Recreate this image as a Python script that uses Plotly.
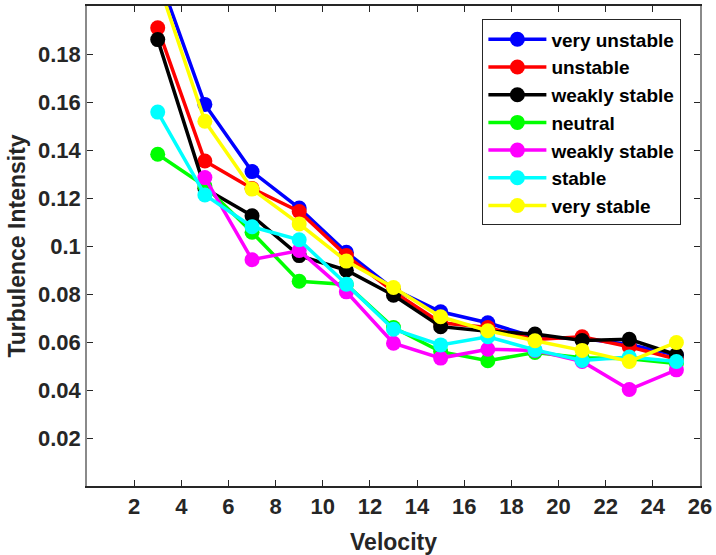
import plotly.graph_objects as go

velocity = [3, 5, 7, 9, 11, 13, 15, 17, 19, 21, 23, 25]

series_names = ["very unstable", "unstable", "weakly stable", "neutral",
                "weakly stable", "stable", "very stable"]
series_colors = ["#0000FF", "#FF0000", "#000000", "#00FF00",
                 "#FF00FF", "#00FFFF", "#FFFF00"]

very_unstable = [0.2138, 0.159, 0.131, 0.1158, 0.0974, 0.082, 0.0726, 0.068, 0.062, 0.0615, 0.059, 0.0545]
unstable      = [0.1909, 0.1354, 0.124, 0.1144, 0.096, 0.081, 0.068, 0.066, 0.061, 0.0622, 0.058, 0.0529]
weakly_stable_a = [0.186, 0.124, 0.1126, 0.096, 0.0899, 0.0795, 0.0664, 0.0645, 0.0633, 0.0606, 0.0611, 0.0547]
neutral       = [0.1382, 0.125, 0.1057, 0.0853, 0.084, 0.066, 0.056, 0.0522, 0.0556, 0.0534, 0.053, 0.051]
weakly_stable_b = [None, 0.1285, 0.0943, 0.0981, 0.0809, 0.0595, 0.0533, 0.057, 0.0565, 0.0519, 0.0402, 0.0484]
stable        = [0.1558, 0.1213, 0.108, 0.1026, 0.0841, 0.0653, 0.0588, 0.0622, 0.0567, 0.0523, 0.0537, 0.0519]
very_stable   = [0.2106, 0.152, 0.1237, 0.1092, 0.0937, 0.0827, 0.0705, 0.0647, 0.0605, 0.0565, 0.0519, 0.0598]

all_series = [very_unstable, unstable, weakly_stable_a, neutral,
              weakly_stable_b, stable, very_stable]

x_ticks = [2, 4, 6, 8, 10, 12, 14, 16, 18, 20, 22, 24, 26]
y_ticks = [0.02, 0.04, 0.06, 0.08, 0.1, 0.12, 0.14, 0.16, 0.18]
y_ticktext = ["0.02", "0.04", "0.06", "0.08", "0.1", "0.12", "0.14", "0.16", "0.18"]

FONT = "Liberation Sans Narrow, Liberation Sans, Arial, sans-serif"
LEG_FONT = "Liberation Sans, Arial, sans-serif"

fig = go.Figure()
for name, color, vals in zip(series_names, series_colors, all_series):
    fig.add_trace(go.Scatter(
        x=velocity, y=vals, name=name, mode="lines+markers",
        line=dict(color=color, width=3.5),
        marker=dict(color=color, size=15, symbol="circle"),
        connectgaps=False,
    ))

fig.update_layout(
    width=716, height=555,
    margin=dict(l=87, r=13, t=4, b=68),
    paper_bgcolor="white", plot_bgcolor="white",
    font=dict(family=FONT, color="#262626"),
    showlegend=True,
    legend=dict(
        x=0.645, y=0.972, xanchor="left", yanchor="top",
        bgcolor="white", bordercolor="#262626", borderwidth=1,
        font=dict(family=LEG_FONT, size=19, color="#000000", weight="bold"),
        itemwidth=58, traceorder="normal",
    ),
    xaxis=dict(
        range=[0, 26], tickvals=x_ticks, ticks="inside", ticklen=6,
        tickcolor="#262626", showline=True, linecolor="#262626", linewidth=1.5,
        mirror="ticks", showgrid=False, zeroline=False,
        tickfont=dict(family=FONT, size=22, color="#262626", weight="bold"),
        title=dict(text="Velocity", standoff=16,
                   font=dict(family=FONT, size=23, color="#262626", weight="bold")),
    ),
    yaxis=dict(
        range=[0, 0.2], tickvals=y_ticks, ticktext=y_ticktext, ticks="inside", ticklen=6,
        tickcolor="#262626", showline=True, linecolor="#8a8a8a", linewidth=1.5,
        mirror="ticks", showgrid=False, zeroline=False,
        tickfont=dict(family=FONT, size=22, color="#262626", weight="bold"),
        title=dict(text="Turbulence Intensity", standoff=6,
                   font=dict(family=FONT, size=23, color="#262626", weight="bold")),
    ),
)

fig.write_html("out.html")
